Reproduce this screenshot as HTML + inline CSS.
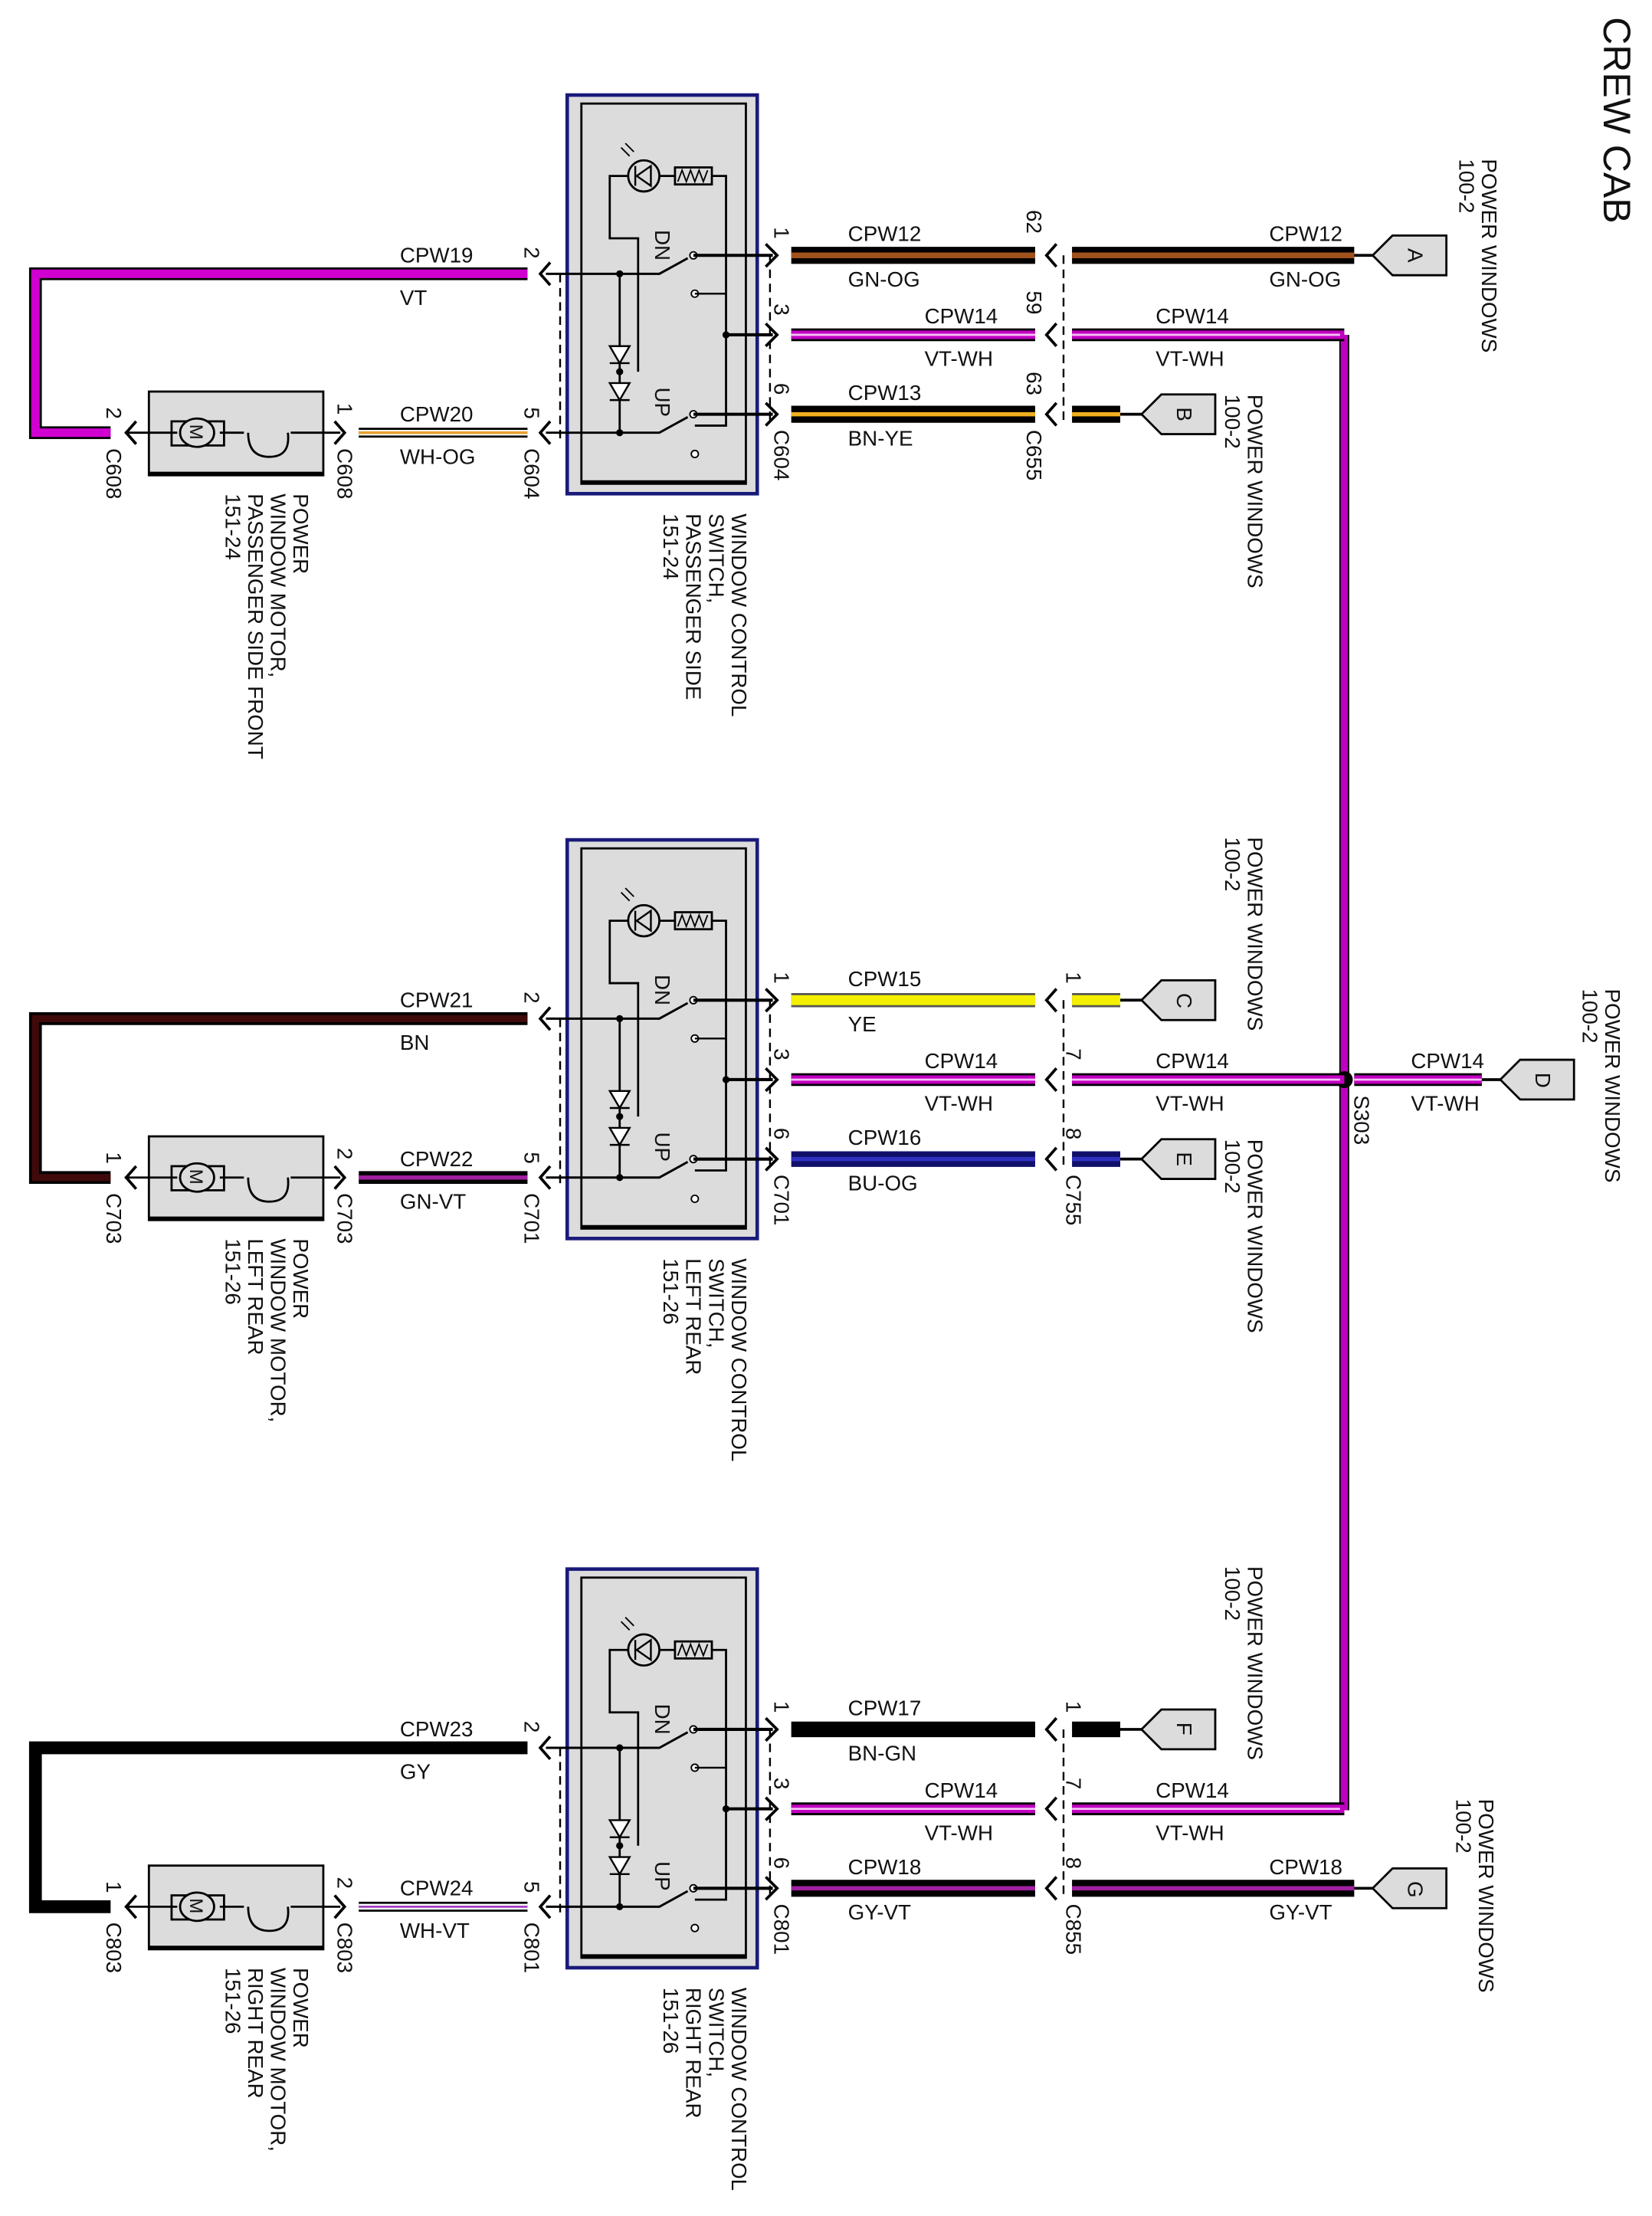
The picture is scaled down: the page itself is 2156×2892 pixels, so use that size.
<!DOCTYPE html>
<html><head><meta charset="utf-8"><style>
html,body{margin:0;padding:0;background:#fff}
svg{display:block}
text{font-family:"Liberation Sans",sans-serif;font-size:15px;fill:#111}
.r{font-size:15px}
</style></head><body>
<svg width="2156" height="2892" viewBox="0 0 1165 1562" preserveAspectRatio="none" xmlns="http://www.w3.org/2000/svg">
<defs>
<g id="sw">
<rect x="400" y="67" width="134" height="281" fill="#dcdcdc" stroke="#1a1a7a" stroke-width="2.5"/>
<rect x="410" y="73" width="116" height="268" fill="#dcdcdc" stroke="#000" stroke-width="1.5"/>
<line x1="410" y1="340" x2="526" y2="340" stroke="#000" stroke-width="3"/>
<circle cx="454" cy="124" r="11" fill="none" stroke="#000" stroke-width="1.5"/>
<path d="M459 117 L449 124 L459 131 Z M448 117 L448 131" fill="none" stroke="#000" stroke-width="1.3"/>
<path d="M444 110 L438 104 M447 107 L441 101" stroke="#000" stroke-width="1"/>
<rect x="476" y="118" width="26" height="12" fill="none" stroke="#000" stroke-width="1.5"/>
<path d="M478 128 L481 120 L484 128 L487 120 L490 128 L493 120 L496 128 L499 120" fill="none" stroke="#000" stroke-width="1"/>
<path d="M443 124 H430 V168 H450 V262 M465 124 H476 M502 124 H512 V300 H490" fill="none" stroke="#000" stroke-width="1.5"/>
<path d="M385 193 H465 L485 182 M385 305 H465 L485 294" fill="none" stroke="#000" stroke-width="1.6"/>
<line x1="437" y1="193" x2="437" y2="305" stroke="#000" stroke-width="1.5"/>
<path d="M430 244 H444 L437 256 Z M430 256 H444 M430 270 H444 L437 282 Z M430 282 H444" fill="#fff" stroke="#000" stroke-width="1.3"/>
<circle cx="437" cy="193" r="2.5"/><circle cx="437" cy="305" r="2.5"/><circle cx="437" cy="262" r="2.5"/><circle cx="512" cy="236" r="2.5"/>
<circle cx="489" cy="180" r="2.5" fill="#fff" stroke="#000"/><circle cx="489" cy="292" r="2.5" fill="#fff" stroke="#000"/>
<circle cx="490" cy="207" r="2.5" fill="#fff" stroke="#000"/><circle cx="490" cy="320" r="2.5" fill="#fff" stroke="#000"/>
<line x1="490" y1="207" x2="512" y2="207" stroke="#000" stroke-width="1.3"/>
<path d="M489 180 H545 M512 236 H545 M489 292 H545" stroke="#000" stroke-width="2.2" fill="none"/>
<text class="r" transform="translate(462,162) rotate(90)">DN</text>
<text class="r" transform="translate(462,273) rotate(90)">UP</text>
<path d="M540 172 L548 180 L540 188 M540 228 L548 236 L540 244 M540 284 L548 292 L540 300" fill="none" stroke="#000" stroke-width="2"/>
<path d="M388 185 L381 193 L388 201 M388 297 L381 305 L388 313" fill="none" stroke="#000" stroke-width="2"/>
<line x1="543" y1="180" x2="543" y2="300" stroke="#000" stroke-width="1.3" stroke-dasharray="6,4"/>
<line x1="395" y1="193" x2="395" y2="312" stroke="#000" stroke-width="1.3" stroke-dasharray="6,4"/>
<line x1="750" y1="180" x2="750" y2="300" stroke="#000" stroke-width="1.3" stroke-dasharray="6,4"/>
<path d="M745 172 L738 180 L745 188 M745 228 L738 236 L745 244 M745 284 L738 292 L745 300" fill="none" stroke="#000" stroke-width="2"/>
<rect x="105" y="276" width="123" height="59" fill="#dcdcdc" stroke="#000" stroke-width="1.5"/>
<line x1="105" y1="334" x2="228" y2="334" stroke="#000" stroke-width="3"/>
<path d="M88 305 H125 M155 305 H172 M205 305 H240" stroke="#000" stroke-width="1.5"/>
<rect x="121" y="297" width="37" height="17" fill="none" stroke="#000" stroke-width="1.5"/>
<ellipse cx="139" cy="305" rx="12" ry="10" fill="#dcdcdc" stroke="#000" stroke-width="1.5"/>
<text transform="translate(134,299) rotate(90)" style="font-size:13px">M</text>
<path d="M175 305 Q175 322 190 322 Q205 322 203 305" fill="none" stroke="#000" stroke-width="1.5"/>
<path d="M96 297 L89 305 L96 313 M236 297 L243 305 L236 313" fill="none" stroke="#000" stroke-width="2"/>
</g>
<path id="pent" d="M0 14 L14 0 H52 V28 H14 Z" fill="#dcdcdc" stroke="#000" stroke-width="1.5"/>
</defs>

<text transform="translate(1131,12) rotate(90)" style="font-size:27px">CREW CAB</text>

<path d="M948 236 V1276" stroke="#000" stroke-width="7" fill="none"/>
<path d="M948 236 V1276" stroke="#c000c0" stroke-width="5" fill="none"/>
<circle cx="948" cy="761" r="6"/>
<text class="r" transform="translate(955,772) rotate(90)">S303</text>

<!-- BLOCK 1 -->
<use href="#sw"/>
<path d="M372 193 H25 V305 H78" fill="none" stroke="#000" stroke-width="9"/>
<path d="M372 193 H25 V305 H78" fill="none" stroke="#d000d0" stroke-width="6"/>
<text x="282" y="185">CPW19</text><text x="282" y="215">VT</text>
<line x1="253" y1="305" x2="372" y2="305" stroke="#000" stroke-width="7"/>
<line x1="253" y1="305" x2="372" y2="305" stroke="#fff" stroke-width="4"/>
<line x1="253" y1="305" x2="372" y2="305" stroke="#e8a030" stroke-width="2"/>
<text x="282" y="297">CPW20</text><text x="282" y="327">WH-OG</text>
<text class="r" transform="translate(370,174) rotate(90)">2</text><text class="r" transform="translate(370,287) rotate(90)">5</text>
<text class="r" transform="translate(370,316) rotate(90)">C604</text>
<text class="r" transform="translate(75,287) rotate(90)">2</text><text class="r" transform="translate(75,316) rotate(90)">C608</text>
<text class="r" transform="translate(238,284) rotate(90)">1</text><text class="r" transform="translate(238,316) rotate(90)">C608</text>
<text class="r" transform="translate(207,348) rotate(90)">POWER</text>
<text class="r" transform="translate(191,348) rotate(90)">WINDOW MOTOR,</text>
<text class="r" transform="translate(175,348) rotate(90)">PASSENGER SIDE FRONT</text>
<text class="r" transform="translate(159,348) rotate(90)">151-24</text>
<text class="r" transform="translate(516,362) rotate(90)">WINDOW CONTROL</text>
<text class="r" transform="translate(500,362) rotate(90)">SWITCH,</text>
<text class="r" transform="translate(484,362) rotate(90)">PASSENGER SIDE</text>
<text class="r" transform="translate(468,362) rotate(90)">151-24</text>
<text class="r" transform="translate(546,160) rotate(90)">1</text><text class="r" transform="translate(546,214) rotate(90)">3</text><text class="r" transform="translate(546,270) rotate(90)">6</text>
<text class="r" transform="translate(546,303) rotate(90)">C604</text>
<text class="r" transform="translate(724,148) rotate(90)">62</text><text class="r" transform="translate(724,205) rotate(90)">59</text><text class="r" transform="translate(724,262) rotate(90)">63</text>
<text class="r" transform="translate(724,303) rotate(90)">C655</text>
<path d="M558 180 H730 M756 180 H955" stroke="#000" stroke-width="12"/>
<path d="M558 180 H730 M756 180 H955" stroke="#a0521d" stroke-width="4"/>
<text x="598" y="170">CPW12</text><text x="598" y="202">GN-OG</text>
<text x="895" y="170">CPW12</text><text x="895" y="202">GN-OG</text>
<line x1="955" y1="180" x2="968" y2="180" stroke="#000" stroke-width="2"/>
<use href="#pent" x="968" y="166"/><text class="r" transform="translate(993,175) rotate(90)">A</text>
<path d="M558 236 H730 M756 236 H948" stroke="#000" stroke-width="9"/>
<path d="M558 236 H730 M756 236 H948" stroke="#c000c0" stroke-width="6"/>
<path d="M558 236 H730 M756 236 H945" stroke="#f6c0f6" stroke-width="1.5"/>
<text x="652" y="228">CPW14</text><text x="652" y="258">VT-WH</text>
<text x="815" y="228">CPW14</text><text x="815" y="258">VT-WH</text>
<path d="M558 292 H730 M756 292 H790" stroke="#000" stroke-width="12"/>
<path d="M558 292 H730 M756 292 H790" stroke="#f0b020" stroke-width="3"/>
<line x1="790" y1="292" x2="805" y2="292" stroke="#000" stroke-width="2"/>
<text x="598" y="282">CPW13</text><text x="598" y="314">BN-YE</text>
<use href="#pent" x="805" y="278"/><text class="r" transform="translate(830,287) rotate(90)">B</text>
<text class="r" transform="translate(1045,112) rotate(90)">POWER WINDOWS</text>
<text class="r" transform="translate(1029,112) rotate(90)">100-2</text>
<text class="r" transform="translate(880,278) rotate(90)">POWER WINDOWS</text>
<text class="r" transform="translate(864,278) rotate(90)">100-2</text>

<!-- BLOCK 2 -->
<g transform="translate(0,525)">
<use href="#sw"/>
<path d="M372 193 H25 V305 H78" fill="none" stroke="#000" stroke-width="9"/>
<path d="M372 193 H25 V305 H78" fill="none" stroke="#400a0a" stroke-width="5"/>
<text x="282" y="185">CPW21</text><text x="282" y="215">BN</text>
<line x1="253" y1="305" x2="372" y2="305" stroke="#000" stroke-width="9"/>
<line x1="253" y1="305" x2="372" y2="305" stroke="#a020a0" stroke-width="3"/>
<text x="282" y="297">CPW22</text><text x="282" y="327">GN-VT</text>
<text class="r" transform="translate(370,174) rotate(90)">2</text><text class="r" transform="translate(370,287) rotate(90)">5</text>
<text class="r" transform="translate(370,316) rotate(90)">C701</text>
<text class="r" transform="translate(75,287) rotate(90)">1</text><text class="r" transform="translate(75,316) rotate(90)">C703</text>
<text class="r" transform="translate(238,284) rotate(90)">2</text><text class="r" transform="translate(238,316) rotate(90)">C703</text>
<text class="r" transform="translate(207,348) rotate(90)">POWER</text>
<text class="r" transform="translate(191,348) rotate(90)">WINDOW MOTOR,</text>
<text class="r" transform="translate(175,348) rotate(90)">LEFT REAR</text>
<text class="r" transform="translate(159,348) rotate(90)">151-26</text>
<text class="r" transform="translate(516,362) rotate(90)">WINDOW CONTROL</text>
<text class="r" transform="translate(500,362) rotate(90)">SWITCH,</text>
<text class="r" transform="translate(484,362) rotate(90)">LEFT REAR</text>
<text class="r" transform="translate(468,362) rotate(90)">151-26</text>
<text class="r" transform="translate(546,160) rotate(90)">1</text><text class="r" transform="translate(546,214) rotate(90)">3</text><text class="r" transform="translate(546,270) rotate(90)">6</text>
<text class="r" transform="translate(546,303) rotate(90)">C701</text>
<text class="r" transform="translate(752,160) rotate(90)">1</text><text class="r" transform="translate(752,214) rotate(90)">7</text><text class="r" transform="translate(752,270) rotate(90)">8</text>
<text class="r" transform="translate(752,303) rotate(90)">C755</text>
<path d="M558 180 H730 M756 180 H790" stroke="#555" stroke-width="10"/>
<path d="M558 180 H730 M756 180 H790" stroke="#f4f000" stroke-width="7"/>
<line x1="790" y1="180" x2="805" y2="180" stroke="#000" stroke-width="2"/>
<text x="598" y="170">CPW15</text><text x="598" y="202">YE</text>
<use href="#pent" x="805" y="166"/><text class="r" transform="translate(830,175) rotate(90)">C</text>
<path d="M558 236 H730 M756 236 H948" stroke="#000" stroke-width="9"/>
<path d="M558 236 H730 M756 236 H948" stroke="#c000c0" stroke-width="6"/>
<path d="M558 236 H730 M756 236 H945" stroke="#f6c0f6" stroke-width="1.5"/>
<text x="652" y="228">CPW14</text><text x="652" y="258">VT-WH</text>
<text x="815" y="228">CPW14</text><text x="815" y="258">VT-WH</text>
<path d="M558 292 H730 M756 292 H790" stroke="#10106a" stroke-width="11"/>
<path d="M558 292 H730 M756 292 H790" stroke="#3030c0" stroke-width="3"/>
<line x1="790" y1="292" x2="805" y2="292" stroke="#000" stroke-width="2"/>
<text x="598" y="282">CPW16</text><text x="598" y="314">BU-OG</text>
<use href="#pent" x="805" y="278"/><text class="r" transform="translate(830,287) rotate(90)">E</text>
<text class="r" transform="translate(880,65) rotate(90)">POWER WINDOWS</text>
<text class="r" transform="translate(864,65) rotate(90)">100-2</text>
<text class="r" transform="translate(880,278) rotate(90)">POWER WINDOWS</text>
<text class="r" transform="translate(864,278) rotate(90)">100-2</text>
<path d="M955 236 H1045" stroke="#000" stroke-width="9"/>
<path d="M955 236 H1045" stroke="#c000c0" stroke-width="6"/>
<path d="M955 236 H1045" stroke="#f6c0f6" stroke-width="1.5"/>
<line x1="1045" y1="236" x2="1058" y2="236" stroke="#000" stroke-width="2"/>
<text x="995" y="228">CPW14</text><text x="995" y="258">VT-WH</text>
<use href="#pent" x="1058" y="222"/><text class="r" transform="translate(1083,231) rotate(90)">D</text>
<text class="r" transform="translate(1132,172) rotate(90)">POWER WINDOWS</text>
<text class="r" transform="translate(1116,172) rotate(90)">100-2</text>
</g>

<!-- BLOCK 3 -->
<g transform="translate(0,1039)">
<use href="#sw"/>
<path d="M372 193 H25 V305 H78" fill="none" stroke="#000" stroke-width="9"/>
<text x="282" y="185">CPW23</text><text x="282" y="215">GY</text>
<line x1="253" y1="305" x2="372" y2="305" stroke="#000" stroke-width="7"/>
<line x1="253" y1="305" x2="372" y2="305" stroke="#fff" stroke-width="4"/>
<line x1="253" y1="305" x2="372" y2="305" stroke="#a040c0" stroke-width="1.5"/>
<text x="282" y="297">CPW24</text><text x="282" y="327">WH-VT</text>
<text class="r" transform="translate(370,174) rotate(90)">2</text><text class="r" transform="translate(370,287) rotate(90)">5</text>
<text class="r" transform="translate(370,316) rotate(90)">C801</text>
<text class="r" transform="translate(75,287) rotate(90)">1</text><text class="r" transform="translate(75,316) rotate(90)">C803</text>
<text class="r" transform="translate(238,284) rotate(90)">2</text><text class="r" transform="translate(238,316) rotate(90)">C803</text>
<text class="r" transform="translate(207,348) rotate(90)">POWER</text>
<text class="r" transform="translate(191,348) rotate(90)">WINDOW MOTOR,</text>
<text class="r" transform="translate(175,348) rotate(90)">RIGHT REAR</text>
<text class="r" transform="translate(159,348) rotate(90)">151-26</text>
<text class="r" transform="translate(516,362) rotate(90)">WINDOW CONTROL</text>
<text class="r" transform="translate(500,362) rotate(90)">SWITCH,</text>
<text class="r" transform="translate(484,362) rotate(90)">RIGHT REAR</text>
<text class="r" transform="translate(468,362) rotate(90)">151-26</text>
<text class="r" transform="translate(546,160) rotate(90)">1</text><text class="r" transform="translate(546,214) rotate(90)">3</text><text class="r" transform="translate(546,270) rotate(90)">6</text>
<text class="r" transform="translate(546,303) rotate(90)">C801</text>
<text class="r" transform="translate(752,160) rotate(90)">1</text><text class="r" transform="translate(752,214) rotate(90)">7</text><text class="r" transform="translate(752,270) rotate(90)">8</text>
<text class="r" transform="translate(752,303) rotate(90)">C855</text>
<path d="M558 180 H730 M756 180 H790" stroke="#000" stroke-width="11"/>
<line x1="790" y1="180" x2="805" y2="180" stroke="#000" stroke-width="2"/>
<text x="598" y="170">CPW17</text><text x="598" y="202">BN-GN</text>
<use href="#pent" x="805" y="166"/><text class="r" transform="translate(830,175) rotate(90)">F</text>
<path d="M558 236 H730 M756 236 H948" stroke="#000" stroke-width="9"/>
<path d="M558 236 H730 M756 236 H948" stroke="#c000c0" stroke-width="6"/>
<path d="M558 236 H730 M756 236 H945" stroke="#f6c0f6" stroke-width="1.5"/>
<text x="652" y="228">CPW14</text><text x="652" y="258">VT-WH</text>
<text x="815" y="228">CPW14</text><text x="815" y="258">VT-WH</text>
<path d="M558 292 H730 M756 292 H955" stroke="#000" stroke-width="12"/>
<path d="M558 292 H730 M756 292 H955" stroke="#a020a0" stroke-width="3"/>
<line x1="955" y1="292" x2="968" y2="292" stroke="#000" stroke-width="2"/>
<text x="598" y="282">CPW18</text><text x="598" y="314">GY-VT</text>
<text x="895" y="282">CPW18</text><text x="895" y="314">GY-VT</text>
<use href="#pent" x="968" y="278"/><text class="r" transform="translate(993,287) rotate(90)">G</text>
<text class="r" transform="translate(880,65) rotate(90)">POWER WINDOWS</text>
<text class="r" transform="translate(864,65) rotate(90)">100-2</text>
<text class="r" transform="translate(1043,229) rotate(90)">POWER WINDOWS</text>
<text class="r" transform="translate(1027,229) rotate(90)">100-2</text>
</g>
</svg>
</body></html>
